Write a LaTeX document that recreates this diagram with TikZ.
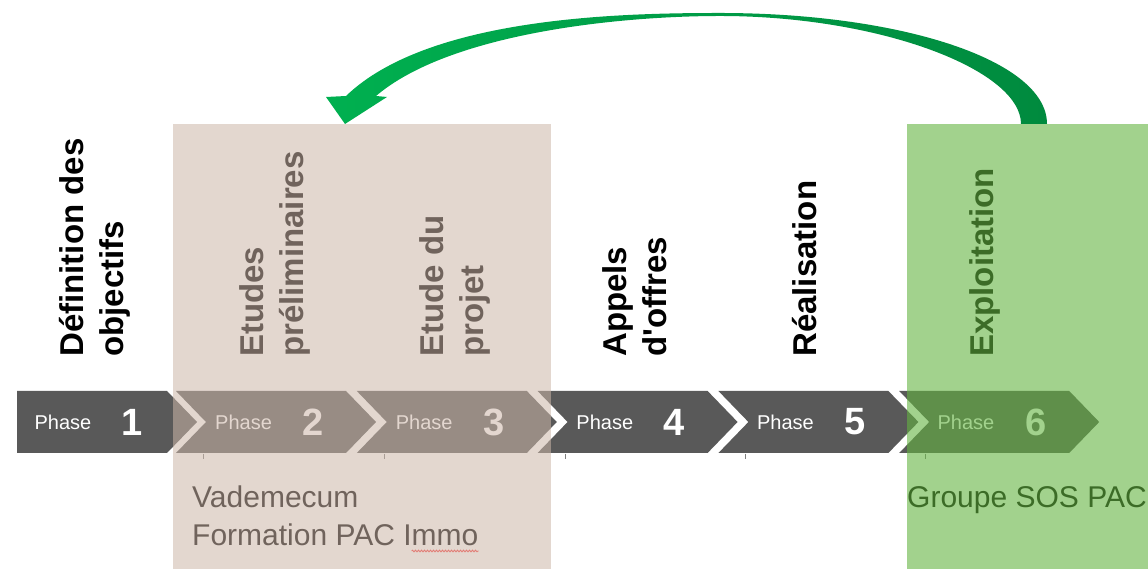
\documentclass[tikz,border=0pt]{standalone}
\usepackage{fontspec}
\setmainfont{Liberation Sans}
\usepackage{xcolor}
\usepackage{tikz}
\usetikzlibrary{decorations.pathmorphing}

\definecolor{chevgray}{RGB}{89,89,89}
\definecolor{beigeov}{RGB}{204,182,168}
\definecolor{greenov}{RGB}{100,180,65}
\definecolor{arrowlight}{RGB}{0,176,80}
\definecolor{arrowdark}{RGB}{0,138,62}

\begin{document}
\begin{tikzpicture}[
  x=1pt, y=1pt,
  chev/.style={fill=chevgray},
  V/.style={rotate=90, anchor=west, align=left, inner sep=0pt,
    font=\fontsize{33}{40}\selectfont\bfseries},
  ph/.style={text=white, inner sep=0pt, font=\fontsize{20}{24}\selectfont},
  num/.style={text=white, inner sep=0pt, font=\fontsize{38}{44}\selectfont\bfseries},
  note/.style={anchor=base west, inner sep=0pt, font=\fontsize{30}{38}\selectfont},
  ov/.style={fill=#1, anchor=south west, inner sep=0pt, outer sep=0pt},
]
\useasboundingbox (0,0) rectangle (1148,569);

%--- CHEVRONS ---
\fill[chev] (17,178) -- (167,178) -- (197,147) -- (167,116) -- (17,116) -- cycle;
\foreach \i in {2,...,6}{
  \pgfmathsetmacro{\L}{176+180.8*(\i-2)}
  \fill[chev] (\L,178) -- ++(170,0) -- ++(30,-31) -- ++(-30,-31)
    -- ++(-170,0) -- ++(30,31) -- cycle;
}
% small ticks under the band
\foreach \x in {203,384,565,745,925}
  \draw[gray, line width=0.8pt] (\x,115) -- (\x,110);

%--- PHASE LABELS ---
\foreach \i in {1,...,6}{
  \pgfmathsetmacro{\px}{63+180.6*(\i-1)}
  \pgfmathsetmacro{\nx}{132+180.8*(\i-1)}
  \node[ph]  (ph\i)  at (\px,147) {Phase};
  \node[num] (num\i) at (\nx,147) {\i};
}

%--- STAGE TITLES ---
\node[V] (t1) at (95,212)  {Définition des\\objectifs};
\node[V] (t2) at (275,212) {Etudes\\préliminaires};
\node[V] (t3) at (455,212) {Etude du\\projet};
\node[V] (t4) at (635,212) {Appels\\d\textquotesingle offres};
\node[V] (t5) at (805,212) {Réalisation};
\node[V] (t6) at (985,212) {Exploitation};

%--- NOTES ---
\node[note] (vade) at (192,61) {Vademecum};
\node[note] (form) at (192,23) {Formation PAC Immo};
\node[note] (sos)  at (907,61) {Groupe SOS PAC};
\draw[red!80, line width=0.8pt, decorate,
  decoration={snake, amplitude=0.9pt, segment length=3pt}]
  ([xshift=-67pt, yshift=-5pt]form.base east) -- ([yshift=-5pt]form.base east);

%--- OVERLAYS ---
\node[ov=beigeov, fill opacity=0.55, minimum width=378pt, minimum height=445pt]
  (etudes) at (173,0) {};
\node[ov=greenov, fill opacity=0.6, minimum width=241pt, minimum height=445pt]
  (exploit) at (907,0) {};

%--- RETURN ARROW ---
\coordinate (tip)  at ([xshift=172pt]etudes.north west);
\coordinate (bin)  at ([xshift=114pt]exploit.north west);
\coordinate (bout) at ([xshift=140pt]exploit.north west);
\shade[left color=arrowlight, middle color=arrowlight!50!arrowdark, right color=arrowdark]
  (346,473) .. controls (428,552) and (620,556) .. (720,556)
  .. controls (900,556) and (1047,509) .. (bout) -- (bin)
  .. controls (1021,499) and (880,553) .. (720,553)
  .. controls (620,553) and (450,536) .. (376,473)
  -- (387,472) -- (tip) -- (326,472) -- cycle;
\end{tikzpicture}
\end{document}
